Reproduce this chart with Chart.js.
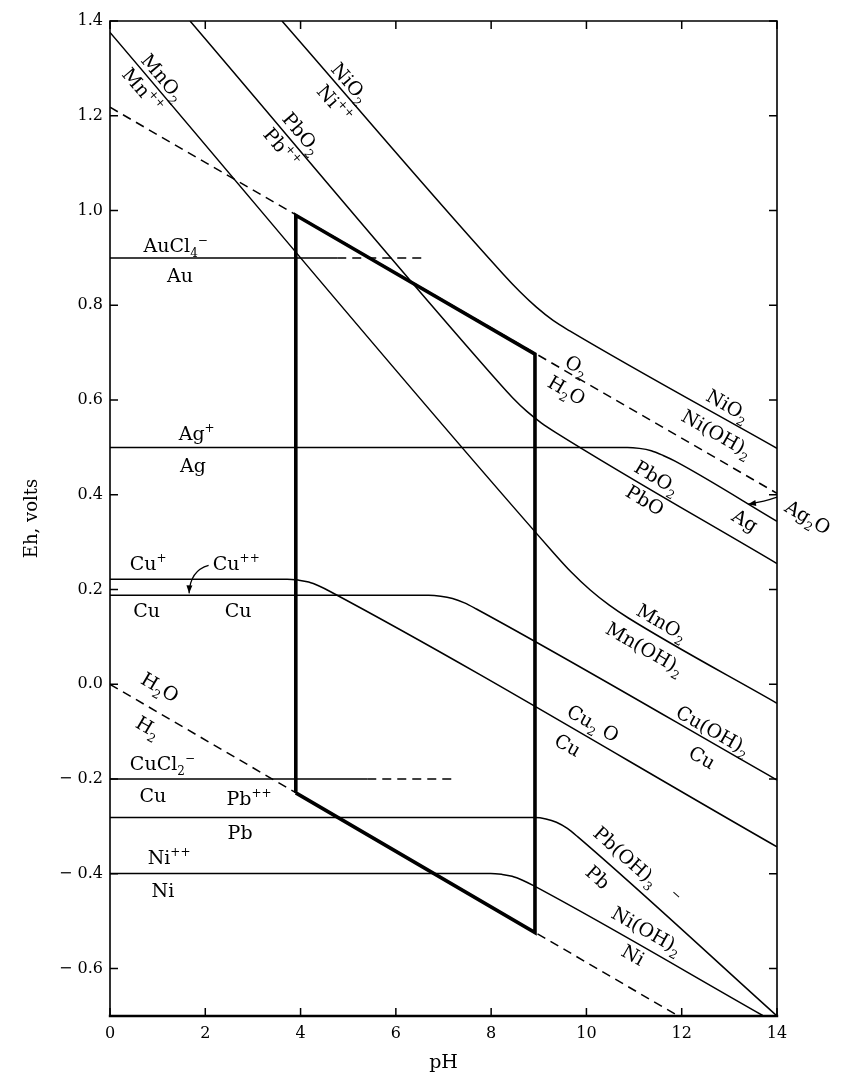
<!DOCTYPE html>
<html lang="en">
<head>
  <meta charset="UTF-8" />
  <script src="https://cdn.jsdelivr.net/npm/chart.js"></script>
  <title>Eh-pH diagram</title>
  <style>
    body { margin: 0; background: #fff; }
    #wrap { width: 856px; height: 1087px; }
  </style>
</head>
<body>
  <div id="wrap"><canvas id="grafico" width="856" height="1087"></canvas></div>
  <script>
    // tick values
    const xTicks = [0, 2, 4, 6, 8, 10, 12, 14];
    const yTicks = [-0.6, -0.4, -0.2, 0, 0.2, 0.4, 0.6, 0.8, 1.0, 1.2, 1.4];

    // boundary lines (pH, Eh)
    const mnO2Ph = [0, 9.28, 9.68, 10.08, 10.48, 10.88, 14];
    const mnO2Eh = [1.376, 0.281, 0.237, 0.199, 0.167, 0.140, -0.04];
    const pbO2Ph = [1.68, 8.15, 8.45, 8.75, 9.05, 9.35, 14];
    const pbO2Eh = [1.4, 0.638, 0.605, 0.576, 0.552, 0.532, 0.255];
    const niO2Ph = [3.61, 8.25, 8.6, 8.95, 9.3, 9.65, 14];
    const niO2Eh = [1.4, 0.866, 0.829, 0.796, 0.768, 0.746, 0.498];
    const agPh = [0, 10.86, 11.11, 11.36, 11.61, 11.86, 14];
    const agEh = [0.5, 0.5, 0.498, 0.493, 0.483, 0.471, 0.344];
    const cu1Ph = [0, 3.72, 3.95, 4.17, 4.4, 4.62, 14];
    const cu1Eh = [0.222, 0.222, 0.220, 0.216, 0.207, 0.196, -0.343];
    const cu2Ph = [0, 6.69, 6.94, 7.19, 7.44, 7.69, 14];
    const cu2Eh = [0.188, 0.188, 0.186, 0.181, 0.172, 0.159, -0.202];
    const pbPh = [0, 8.92, 9.15, 9.37, 9.6, 9.82, 14];
    const pbEh = [-0.281, -0.281, -0.284, -0.291, -0.304, -0.322, -0.70];
    const niPh = [0, 7.99, 8.22, 8.44, 8.67, 8.89, 13.7];
    const niEh = [-0.399, -0.399, -0.401, -0.405, -0.414, -0.425, -0.699];
    const auPh = [0, 4.77];
    const auEh = [0.9, 0.9];
    const auDashPh = [4.77, 6.57];
    const auDashEh = [0.9, 0.9];
    const cuClPh = [0, 5.4];
    const cuClEh = [-0.2, -0.2];
    const cuClDashPh = [5.4, 7.2];
    const cuClDashEh = [-0.2, -0.2];
    // water stability limits
    const o2Ph = [0, 14];
    const o2Eh = [1.218, 0.403];
    const h2Ph = [0, 11.93];
    const h2Eh = [0, -0.70];
    // natural environment box
    const cajaPh = [3.9, 3.9, 8.92, 8.92, 3.9];
    const cajaEh = [-0.229, 0.99, 0.697, -0.524, -0.229];

    // field labels: text (_ subscript, ^ superscript), position, slope of the line they follow
    const etiquetas = [
      { t: 'MnO_2', x: 1.11, y: 1.281, s: -0.118 },
      { t: 'Mn^{++}', x: 0.69, y: 1.254, s: -0.118 },
      { t: 'NiO_2', x: 5.04, y: 1.27, s: -0.115 },
      { t: 'Ni^{++}', x: 4.72, y: 1.226, s: -0.115 },
      { t: 'PbO_2', x: 4.03, y: 1.163, s: -0.118 },
      { t: 'Pb^{++}', x: 3.61, y: 1.133, s: -0.118 },
      { t: 'AuCl_4^{\u2212}', x: 1.38, y: 0.927, s: 0 },
      { t: 'Au', x: 1.47, y: 0.863, s: 0 },
      { t: 'Ag^{+}', x: 1.82, y: 0.53, s: 0 },
      { t: 'Ag', x: 1.74, y: 0.462, s: 0 },
      { t: 'Cu^{+}', x: 0.8, y: 0.256, s: 0 },
      { t: 'Cu^{++}', x: 2.65, y: 0.256, s: 0 },
      { t: 'Cu', x: 0.77, y: 0.157, s: 0 },
      { t: 'Cu', x: 2.69, y: 0.157, s: 0 },
      { t: 'H_2O', x: 1.05, y: -0.006, s: -0.059 },
      { t: 'H_2', x: 0.8, y: -0.09, s: -0.059 },
      { t: 'CuCl_2^{\u2212}', x: 1.1, y: -0.166, s: 0 },
      { t: 'Cu', x: 0.9, y: -0.234, s: 0 },
      { t: 'Pb^{++}', x: 2.92, y: -0.24, s: 0 },
      { t: 'Pb', x: 2.73, y: -0.312, s: 0 },
      { t: 'Ni^{++}', x: 1.24, y: -0.365, s: 0 },
      { t: 'Ni', x: 1.11, y: -0.434, s: 0 },
      { t: 'O_2', x: 9.8, y: 0.673, s: -0.058 },
      { t: 'H_2O', x: 9.59, y: 0.621, s: -0.058 },
      { t: 'NiO_2', x: 12.97, y: 0.589, s: -0.057 },
      { t: 'Ni(OH)_2', x: 12.74, y: 0.53, s: -0.057 },
      { t: 'PbO_2', x: 11.48, y: 0.437, s: -0.06 },
      { t: 'PbO', x: 11.23, y: 0.389, s: -0.06 },
      { t: 'Ag', x: 13.33, y: 0.346, s: -0.059 },
      { t: 'Ag_2O', x: 14.65, y: 0.353, s: -0.059 },
      { t: 'MnO_2', x: 11.59, y: 0.131, s: -0.058 },
      { t: 'Mn(OH)_2', x: 11.23, y: 0.076, s: -0.058 },
      { t: 'Cu(OH)_2', x: 12.66, y: -0.097, s: -0.057 },
      { t: 'Cu', x: 12.43, y: -0.154, s: -0.057 },
      { t: 'Cu_2 O', x: 10.14, y: -0.082, s: -0.057 },
      { t: 'Cu', x: 9.61, y: -0.128, s: -0.057 },
      { t: 'Pb(OH)_3   ^{\u2212}', x: 11.05, y: -0.383, s: -0.09 },
      { t: 'Pb', x: 10.24, y: -0.407, s: -0.09 },
      { t: 'Ni(OH)_2', x: 11.27, y: -0.519, s: -0.057 },
      { t: 'Ni', x: 10.98, y: -0.571, s: -0.057 }
    ];
    // small curved arrows: start, control, tip
    const flechas = [
      [[2.07, 0.251], [1.68, 0.24], [1.66, 0.192]],
      [[14.0, 0.395], [13.75, 0.386], [13.39, 0.38]]
    ];

    const SERIF = '"DejaVu Serif", "Liberation Serif", serif';

    function serie(ph, eh, extra) {
      return Object.assign({
        data: ph.map((v, i) => ({ x: v, y: eh[i] })),
        showLine: true,
        pointRadius: 0,
        borderColor: '#000',
        borderWidth: 1.5,
        fill: false,
        cubicInterpolationMode: 'monotone'
      }, extra || {});
    }

    function partes(txt) {
      const out = [];
      const re = /([_^])(\{[^}]*\}|.)|([^_^]+)/g;
      let m;
      while ((m = re.exec(txt))) {
        if (m[3]) out.push({ s: m[3], k: 0 });
        else out.push({ s: m[2].replace(/[{}]/g, ''), k: m[1] === '_' ? 1 : -1 });
      }
      return out;
    }

    function textoRico(ctx, txt, px, py, ang, size) {
      const ps = partes(txt);
      const fuente = k => (k ? Math.round(size * 0.62) : size) + 'px ' + SERIF;
      let w = 0;
      ps.forEach(p => { ctx.font = fuente(p.k); p.w = ctx.measureText(p.s).width; w += p.w; });
      ctx.save();
      ctx.translate(px, py);
      ctx.rotate(ang);
      ctx.textBaseline = 'alphabetic';
      let cx = -w / 2;
      const base = size * 0.35;
      ps.forEach(p => {
        ctx.font = fuente(p.k);
        const dy = p.k === 1 ? size * 0.28 : p.k === -1 ? -size * 0.42 : 0;
        ctx.fillText(p.s, cx, base + dy);
        cx += p.w;
      });
      ctx.restore();
    }

    function flecha(ctx, p0, p1, p2) {
      ctx.beginPath();
      ctx.moveTo(p0[0], p0[1]);
      ctx.quadraticCurveTo(p1[0], p1[1], p2[0], p2[1]);
      ctx.stroke();
      const a = Math.atan2(p2[1] - p1[1], p2[0] - p1[0]);
      const l = 8, h = 3;
      ctx.beginPath();
      ctx.moveTo(p2[0], p2[1]);
      ctx.lineTo(p2[0] - l * Math.cos(a) + h * Math.sin(a), p2[1] - l * Math.sin(a) - h * Math.cos(a));
      ctx.lineTo(p2[0] - l * Math.cos(a) - h * Math.sin(a), p2[1] - l * Math.sin(a) + h * Math.cos(a));
      ctx.closePath();
      ctx.fill();
    }

    // frame, inward ticks, field labels and arrows
    const marcoPlugin = {
      id: 'marco',
      afterDraw(chart) {
        const { ctx, chartArea: a, scales: { x, y } } = chart;
        ctx.save();
        ctx.strokeStyle = '#000';
        ctx.fillStyle = '#000';
        ctx.lineCap = 'square';
        ctx.lineWidth = 1.6;
        ctx.beginPath();
        ctx.moveTo(a.left, a.bottom); ctx.lineTo(a.left, a.top); ctx.lineTo(a.right, a.top); ctx.lineTo(a.right, a.bottom);
        ctx.stroke();
        ctx.lineWidth = 2.4;
        ctx.beginPath();
        ctx.moveTo(a.left, a.bottom); ctx.lineTo(a.right, a.bottom);
        ctx.stroke();

        ctx.lineWidth = 1.5;
        ctx.lineCap = 'butt';
        ctx.beginPath();
        xTicks.forEach(v => {
          const px = x.getPixelForValue(v);
          ctx.moveTo(px, a.bottom); ctx.lineTo(px, a.bottom - 8);
          ctx.moveTo(px, a.top); ctx.lineTo(px, a.top + 8);
        });
        yTicks.forEach(v => {
          const py = y.getPixelForValue(v);
          ctx.moveTo(a.left, py); ctx.lineTo(a.left + 8, py);
          ctx.moveTo(a.right, py); ctx.lineTo(a.right - 8, py);
        });
        ctx.stroke();

        etiquetas.forEach(l => {
          const px = x.getPixelForValue(l.x), py = y.getPixelForValue(l.y);
          const ang = l.s ? Math.atan2(y.getPixelForValue(l.y + l.s) - py, x.getPixelForValue(l.x + 1) - px) : 0;
          textoRico(ctx, l.t, px, py, ang, 19);
        });

        ctx.lineWidth = 1.2;
        flechas.forEach(f => {
          const p = f.map(q => [x.getPixelForValue(q[0]), y.getPixelForValue(q[1])]);
          flecha(ctx, p[0], p[1], p[2]);
        });
        ctx.restore();
      }
    };

    const guion = { borderDash: [9, 6], cubicInterpolationMode: 'default' };

    const ctx = document.getElementById('grafico').getContext('2d');
    new Chart(ctx, {
      type: 'scatter',
      data: {
        datasets: [
          serie(o2Ph, o2Eh, guion),
          serie(h2Ph, h2Eh, guion),
          serie(auDashPh, auDashEh, guion),
          serie(cuClDashPh, cuClDashEh, guion),
          serie(auPh, auEh),
          serie(cuClPh, cuClEh),
          serie(mnO2Ph, mnO2Eh),
          serie(pbO2Ph, pbO2Eh),
          serie(niO2Ph, niO2Eh),
          serie(agPh, agEh),
          serie(cu1Ph, cu1Eh),
          serie(cu2Ph, cu2Eh),
          serie(pbPh, pbEh),
          serie(niPh, niEh),
          serie(cajaPh, cajaEh, { borderWidth: 3.6, borderJoinStyle: 'miter', cubicInterpolationMode: 'default' })
        ]
      },
      options: {
        responsive: false,
        animation: false,
        layout: { padding: { top: 21, right: 79, left: 0, bottom: 0 } },
        plugins: { legend: { display: false }, tooltip: { enabled: false } },
        scales: {
          x: {
            type: 'linear',
            min: 0,
            max: 14,
            grid: { display: false, drawTicks: false },
            border: { display: false },
            afterBuildTicks: s => { s.ticks = xTicks.map(v => ({ value: v })); },
            afterFit: s => { s.height = 71; },
            ticks: { color: '#000', padding: 8, font: { family: SERIF, size: 16 }, callback: v => String(v) },
            title: { display: true, text: 'pH', color: '#000', padding: 13, font: { family: SERIF, size: 19 } }
          },
          y: {
            type: 'linear',
            min: -0.7,
            max: 1.4,
            grid: { display: false, drawTicks: false },
            border: { display: false },
            afterBuildTicks: s => { s.ticks = yTicks.map(v => ({ value: v })); },
            afterFit: s => { s.width = 110; },
            ticks: {
              color: '#000',
              padding: 7,
              font: { family: SERIF, size: 16 },
              callback: v => (v < -0.001 ? '\u2212 ' + Math.abs(v).toFixed(1) : Math.abs(v).toFixed(1))
            },
            title: { display: true, text: 'Eh, volts', color: '#000', padding: 22, font: { family: SERIF, size: 18 } }
          }
        }
      },
      plugins: [marcoPlugin]
    });
  </script>
</body>
</html>
